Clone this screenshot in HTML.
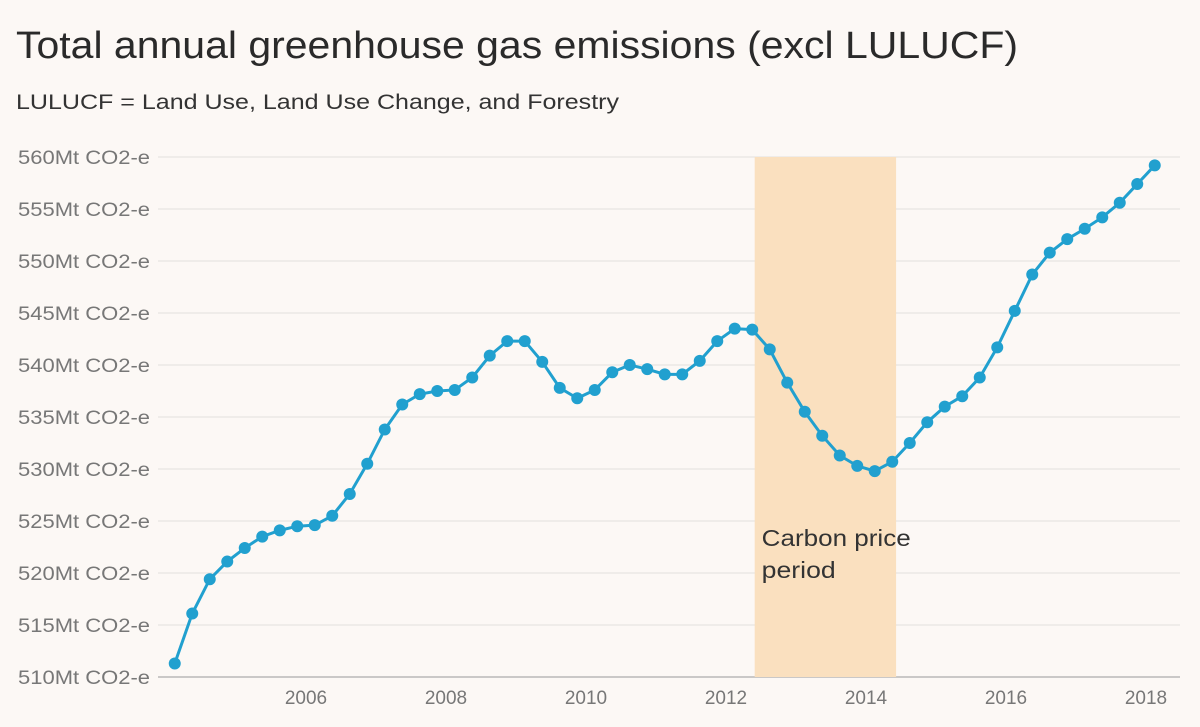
<!DOCTYPE html>
<html><head><meta charset="utf-8"><style>
html,body{margin:0;padding:0;background:#fcf8f5;}
body{width:1200px;height:722px;overflow:hidden;font-family:"Liberation Sans",sans-serif;}
</style></head><body>
<svg id="chart" width="1200" height="722" xmlns="http://www.w3.org/2000/svg">
<rect width="1200" height="722" fill="#fcf8f5"/>
<text x="16" y="58" font-size="38" fill="#2a2a2a" textLength="1002" lengthAdjust="spacingAndGlyphs">Total annual greenhouse gas emissions (excl LULUCF)</text>
<text x="16" y="109" font-size="21" fill="#333" textLength="603" lengthAdjust="spacingAndGlyphs">LULUCF = Land Use, Land Use Change, and Forestry</text>
<g id="grid"></g><g id="band"></g><g id="series"></g><g id="axes"></g>
</svg>
<script>
const yTicks=[510,515,520,525,530,535,540,545,550,555,560];
const xTicks=[2006,2008,2010,2012,2014,2016,2018];
const startYear=2004.125, step=0.25;
const values=[511.3,516.1,519.4,521.1,522.4,523.5,524.1,524.5,524.6,525.5,527.6,530.5,533.8,536.2,537.2,537.5,537.6,538.8,540.9,542.3,542.3,540.3,537.8,536.8,537.6,539.3,540.0,539.6,539.1,539.1,540.4,542.3,543.5,543.4,541.5,538.3,535.5,533.2,531.3,530.3,529.8,530.7,532.5,534.5,536.0,537.0,538.8,541.7,545.2,548.7,550.8,552.1,553.1,554.2,555.6,557.4,559.2];
const band=[2012.41,2014.43];
const NS="http://www.w3.org/2000/svg";
const X=yr=>306+(yr-2006)*70;
const Y=v=>677-(v-510)*10.4;
function mk(tag,attrs,parent){const e=document.createElementNS(NS,tag);for(const k in attrs)e.setAttribute(k,attrs[k]);document.getElementById(parent).appendChild(e);return e;}
yTicks.forEach(t=>{
 const l=mk('line',{x1:158,x2:1180,y1:Y(t),y2:Y(t),stroke:t===510?'#999':'#e2dfdd','stroke-width':1},'grid');
 
 
 const tx=mk('text',{x:18,y:Y(t)+7,'font-size':19,fill:'#777',textLength:132,lengthAdjust:'spacingAndGlyphs'},'axes');
 tx.textContent=t+'Mt CO2-e';
 
 
});
xTicks.forEach(t=>{
 const tx=mk('text',{x:X(t),y:704,'font-size':19,fill:'#777','text-anchor':'middle'},'axes');
 tx.textContent=t;
 
 
});
const r=mk('rect',{x:X(band[0]),y:Y(560),width:X(band[1])-X(band[0]),height:Y(510)-Y(560),fill:'#fae0bf'},'band');


[['Carbon price',546,149],['period',578,74]].forEach((p,i)=>{
 const t=mk('text',{x:X(band[0])+7,y:p[1],'font-size':23,fill:'#333',textLength:p[2],lengthAdjust:'spacingAndGlyphs'},'band');
 t.textContent=p[0];
 
 
});
const pts=values.map((v,i)=>[X(startYear+i*step),Y(v)]);
const pl=mk('polyline',{points:pts.map(p=>p.join(',')).join(' '),fill:'none',stroke:'#21a0cf','stroke-width':3},'series');


pts.forEach((p,i)=>{
 const c=mk('circle',{cx:p[0],cy:p[1],r:6,fill:'#21a0cf'},'series');
 
 
});
</script>
</body></html>
